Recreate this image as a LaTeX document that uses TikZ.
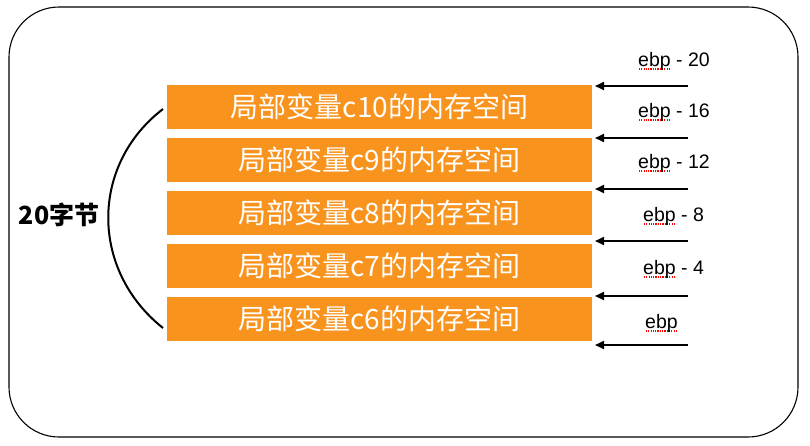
\documentclass[tikz,border=0pt]{standalone}
\usepackage{fontspec}
\setmainfont{Liberation Sans}
\newfontfamily\cjk{Noto Sans CJK SC}
\usetikzlibrary{arrows.meta}
\definecolor{boxorange}{HTML}{F8931E}
\newsavebox{\ebpbox}
\newcommand{\ebpu}{\sbox{\ebpbox}{ebp}\rlap{\raisebox{-3.5pt}{\color{red}\hbox to \wd\ebpbox{\xleaders\hbox to 2.2pt{\hss\rule{1.1pt}{1.1pt}\hss}\hfill}}}\usebox{\ebpbox}}
\tikzset{
  membox/.style={fill=boxorange, draw=none, minimum width=425pt, minimum height=44pt, inner sep=0pt, text=white, font=\cjk\fontsize{28}{30}\selectfont},
  ptrarrow/.style={line width=2pt, -{Triangle[length=9pt,width=8pt]}},
  ptrlabel/.style={anchor=west, inner sep=0pt, font=\fontsize{19.5}{22}\selectfont},
}
\begin{document}
\begin{tikzpicture}[x=1pt,y=-1pt]
\useasboundingbox (0,0) rectangle (810,445);
\draw[line width=1.1pt, rounded corners=50pt] (9,7) rectangle (798,437);
% memory boxes
\node[membox] (b1) at (379.5,106.5) {局部变量c10的内存空间};
\node[membox] (b2) at (379.5,159.5) {局部变量c9的内存空间};
\node[membox] (b3) at (379.5,212.5) {局部变量c8的内存空间};
\node[membox] (b4) at (379.5,265.5) {局部变量c7的内存空间};
\node[membox] (b5) at (379.5,318.5) {局部变量c6的内存空间};
% arrow starts and ends
\coordinate (s1) at (688,86);  \coordinate (e1) at (595,86);
\coordinate (s2) at (688,138); \coordinate (e2) at (595,138);
\coordinate (s3) at (688,189); \coordinate (e3) at (595,189);
\coordinate (s4) at (688,241); \coordinate (e4) at (595,241);
\coordinate (s5) at (688,296); \coordinate (e5) at (595,296);
\coordinate (s6) at (688,345); \coordinate (e6) at (595,345);
\foreach \i in {1,...,6} \draw[ptrarrow] (s\i) -- (e\i);
% labels
\node[ptrlabel] (l1) at (638,61) {\ebpu{} - 20};
\node[ptrlabel] (l2) at (638,112) {\ebpu{} - 16};
\node[ptrlabel] (l3) at (638,163) {\ebpu{} - 12};
\node[ptrlabel] (l4) at (643,216) {\ebpu{} - 8};
\node[ptrlabel] (l5) at (643,269) {\ebpu{} - 4};
\node[ptrlabel] (l6) at (645,323) {\ebpu};
% bracket
\coordinate (bt) at (163,109);
\coordinate (bb) at (163,328);
\draw[line width=2pt] (bt) .. controls (90,165) and (90,270) .. (bb);
\node[font=\cjk\bfseries\fontsize{25}{27}\selectfont, inner sep=0pt] (size) at (59,215) {20字节};
\end{tikzpicture}
\end{document}
